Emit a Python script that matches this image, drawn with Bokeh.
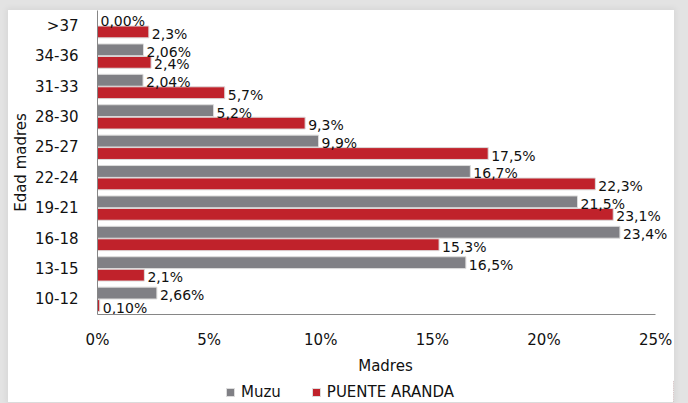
from bokeh.plotting import figure
from bokeh.models import (ColumnDataSource, FactorRange, Range1d, FixedTicker,
                          PrintfTickFormatter, Legend, LegendItem)
from bokeh.core.properties import value
from bokeh.transform import dodge
from bokeh.layouts import column
from bokeh.embed import file_html
from bokeh.resources import INLINE

# ---- data (bottom to top) ----
categories = ["10-12", "13-15", "16-18", "19-21", "22-24",
              "25-27", "28-30", "31-33", "34-36", ">37"]
muzu = [2.66, 16.5, 23.4, 21.5, 16.7, 9.9, 5.2, 2.04, 2.06, 0.00]
puente = [0.10, 2.1, 15.3, 23.1, 22.3, 17.5, 9.3, 5.7, 2.4, 2.3]
muzu_labels = ["2,66%", "16,5%", "23,4%", "21,5%", "16,7%",
               "9,9%", "5,2%", "2,04%", "2,06%", "0,00%"]
puente_labels = ["0,10%", "2,1%", "15,3%", "23,1%", "22,3%",
                 "17,5%", "9,3%", "5,7%", "2,4%", "2,3%"]
x_ticks = [0, 5, 10, 15, 20, 25]
series_names = ["Muzu", "PUENTE ARANDA"]

FONT = "DejaVu Sans"
GRAY = "#808085"
RED = "#c0222b"
EDGE = "#dcdcdc"
W = 666

src = ColumnDataSource(dict(cat=categories, muzu=muzu, puente=puente,
                            ml=muzu_labels, pl=puente_labels))

# frame spans 0..25.8 so that labels past 25% are not clipped; axis stops at 25
p = figure(width=W, height=370, output_backend="svg", toolbar_location=None,
           y_range=FactorRange(factors=categories, range_padding=0),
           x_range=Range1d(0, 25.8),
           min_border_left=89, min_border_right=1, min_border_top=0,
           min_border_bottom=66)
p.background_fill_color = "white"
p.border_fill_color = "white"
p.outline_line_color = None
p.grid.grid_line_color = None

r_muzu = p.hbar(y=dodge("cat", 0.205, range=p.y_range), right="muzu", left=0,
                height=0.39, fill_color=GRAY, line_color=EDGE,
                line_width=1, source=src)
r_pa = p.hbar(y=dodge("cat", -0.205, range=p.y_range), right="puente", left=0,
              height=0.39, fill_color=RED, line_color=EDGE,
              line_width=1, source=src)

common = dict(text_font=value(FONT), text_font_size="14px", text_color="#111111",
              text_baseline="middle", text_align="left", x_offset=3, y_offset=2,
              source=src)
p.text(x="muzu", y=dodge("cat", 0.205, range=p.y_range), text="ml", **common)
p.text(x="puente", y=dodge("cat", -0.205, range=p.y_range), text="pl", **common)

# axes
p.xaxis.ticker = FixedTicker(ticks=x_ticks)
p.xaxis.formatter = PrintfTickFormatter(format="%d%%")
p.xaxis.bounds = (x_ticks[0], x_ticks[-1])
for ax in (p.xaxis[0], p.yaxis[0]):
    ax.axis_line_color = "#868686"
    ax.axis_line_width = 1
    ax.major_tick_line_color = None
    ax.minor_tick_line_color = None
    ax.major_label_text_font = FONT
    ax.major_label_text_font_size = "15px"
    ax.major_label_text_color = "#111111"
    ax.axis_label_text_font = FONT
    ax.axis_label_text_font_size = "15px"
    ax.axis_label_text_font_style = "normal"
    ax.axis_label_text_color = "#111111"
p.xaxis.axis_label = "Madres"
p.yaxis.axis_label = "Edad madres"
p.xaxis.major_label_standoff = 10
p.xaxis.axis_label_standoff = 5
p.yaxis.major_label_standoff = 13
p.yaxis.axis_label_standoff = 2

# ---- legend strip (own small figure so the legend is not clipped) ----
# its bars sit outside the visible x-range; only their legend swatches show
leg = figure(width=W, height=22, output_backend="svg", toolbar_location=None,
             x_axis_type=None, y_axis_type=None,
             x_range=Range1d(-10, -5),
             y_range=FactorRange(factors=categories, range_padding=0),
             min_border_left=0, min_border_right=0, min_border_top=0,
             min_border_bottom=0)
leg.outline_line_color = None
leg.background_fill_color = "white"
leg.border_fill_color = "white"
leg.grid.grid_line_color = None
l_muzu = leg.hbar(y="cat", right="muzu", left=0, height=0.5, fill_color=GRAY,
                  line_color=EDGE, source=src)
l_pa = leg.hbar(y="cat", right="puente", left=0, height=0.5, fill_color=RED,
                line_color=EDGE, source=src)

legend = Legend(items=[LegendItem(label=series_names[0], renderers=[l_muzu]),
                       LegendItem(label=series_names[1], renderers=[l_pa])],
                orientation="horizontal", location=(128, 1),
                glyph_width=10, glyph_height=10, label_standoff=6, spacing=30,
                padding=2, margin=0, label_height=17,
                label_text_font=FONT, label_text_font_size="15px",
                label_text_color="#111111",
                border_line_color=None, background_fill_alpha=0)
leg.add_layout(legend, "center")

panel = column(p, leg, spacing=0, margin=(10, 0, 0, 8),
               styles={"background-color": "white",
                       "box-shadow": "0 0 6px 2px rgba(0,0,0,0.05)"})
page = column(panel, styles={"background-color": "#e3e3e3", "width": "688px",
                             "height": "403px"})

open("out.html", "w").write(file_html(page, INLINE))
